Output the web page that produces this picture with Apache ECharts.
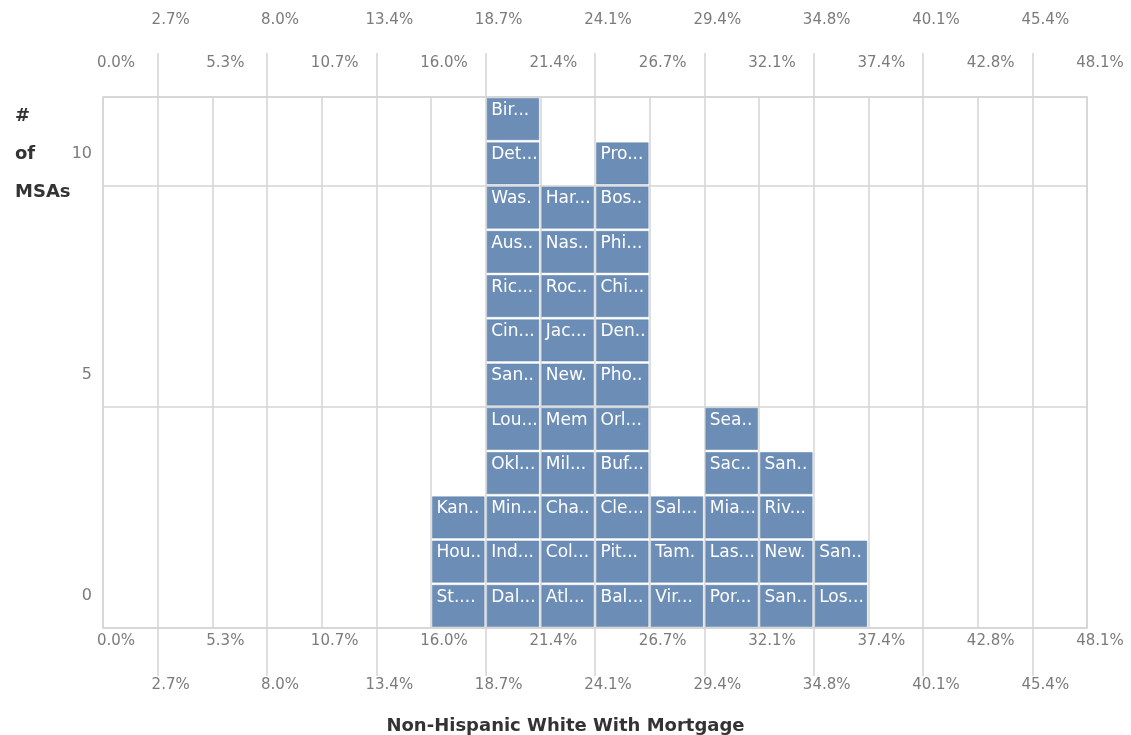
<!DOCTYPE html>
<html>
<head>
<meta charset="utf-8">
<script src="https://cdn.jsdelivr.net/npm/echarts@6/dist/echarts.min.js"></script>
<style>
html,body{margin:0;padding:0;background:#fff;}
#chart{width:1131px;height:735px;}
</style>
</head>
<body>
<div id="chart"></div>
<script>
// Bin edge tick labels (18 bins from 0.0% to 48.1%)
const tickLabels = ['0.0%','2.7%','5.3%','8.0%','10.7%','13.4%','16.0%','18.7%','21.4%','24.1%','26.7%','29.4%','32.1%','34.8%','37.4%','40.1%','42.8%','45.4%','48.1%'];
// y-axis labels (count of MSAs)
const yTickValues = [0, 5, 10];

// MSAs stacked in each bin, bottom to top (labels as displayed)
const bin_16_0 = ['St....','Hou..','Kan..'];
const bin_18_7 = ['Dal...','Ind...','Min...','Okl...','Lou...','San..','Cin...','Ric...','Aus..','Was.','Det...','Bir...'];
const bin_21_4 = ['Atl...','Col...','Cha..','Mil...','Mem','New.','Jac...','Roc..','Nas..','Har...'];
const bin_24_1 = ['Bal...','Pit...','Cle...','Buf...','Orl...','Pho..','Den..','Chi...','Phi...','Bos..','Pro...'];
const bin_26_7 = ['Vir...','Tam.','Sal...'];
const bin_29_4 = ['Por...','Las...','Mia...','Sac..','Sea..'];
const bin_32_1 = ['San..','New.','Riv...','San..'];
const bin_34_8 = ['Los...','San..'];
// bin index (position of left edge among tickLabels) for each column
const binIndex = [6, 7, 8, 9, 10, 11, 12, 13];
const columns = [bin_16_0, bin_18_7, bin_21_4, bin_24_1, bin_26_7, bin_29_4, bin_32_1, bin_34_8];

const cells = [];
columns.forEach((col, ci) => {
  col.forEach((name, row) => { cells.push([binIndex[ci], row, name]); });
});

const nBins = tickLabels.length - 1;
const evens = [], odds = [];
for (let i = 0; i <= nBins; i++) { (i % 2 === 0 ? evens : odds).push(i); }

const GRID = '#d4d4d4';
const LABEL = { color: '#7b7b7b', fontSize: 15, fontFamily: 'DejaVu Sans', align: 'center', padding: [0, 0, 0, 26] };

function xAx(position, parity, margin, tickLen, split) {
  return {
    type: 'value', position: position, min: 0, max: nBins, interval: 1,
    axisLine: { show: false },
    axisTick: tickLen ? { show: true, customValues: odds, length: tickLen, lineStyle: { color: GRID, width: 1.5 } } : { show: false },
    splitLine: { show: !!split, lineStyle: { color: GRID, width: 1.5 } },
    axisLabel: Object.assign({}, LABEL, {
      margin: margin,
      formatter: function (v) { const i = Math.round(v); return (i % 2 === parity) ? tickLabels[i] : ''; }
    })
  };
}

const chart = echarts.init(document.getElementById('chart'), null, { renderer: 'canvas' });
chart.setOption({
  animation: false,
  backgroundColor: '#ffffff',
  title: [
    { text: '#\nof\nMSAs', left: 10, top: 92,
      textStyle: { fontFamily: 'DejaVu Sans', fontWeight: 'bold', fontSize: 18, color: '#333', lineHeight: 38 } },
    { text: 'Non-Hispanic White With Mortgage', left: 'center', top: 712,
      textStyle: { fontFamily: 'DejaVu Sans', fontWeight: 'bold', fontSize: 18, color: '#333' } }
  ],
  grid: { left: 103, right: 44, top: 97, bottom: 107, show: true, borderColor: GRID, borderWidth: 1.5, containLabel: false },
  xAxis: [
    xAx('bottom', 0, 6, 0, true),
    xAx('bottom', 1, 50, 48, false),
    xAx('top', 0, 26, 0, false),
    xAx('top', 1, 69, 44, false)
  ],
  yAxis: {
    type: 'value', min: 0, max: 12, interval: 5,
    axisLine: { show: false }, axisTick: { show: false },
    splitLine: { show: true, lineStyle: { color: GRID, width: 1.5 } },
    axisLabel: {
      color: '#7b7b7b', fontSize: 16, fontFamily: 'DejaVu Sans', margin: 11,
      verticalAlign: 'bottom', lineHeight: 64,
      formatter: function (v) { return yTickValues.indexOf(v) >= 0 ? String(v) : ''; }
    }
  },
  series: [{
    type: 'custom',
    xAxisIndex: 0,
    yAxisIndex: 0,
    data: cells,
    encode: { x: 0, y: 1 },
    renderItem: function (params, api) {
      const x = api.value(0), y = api.value(1);
      const p0 = api.coord([x, y + 1]);
      const p1 = api.coord([x + 1, y]);
      const inset = 1.5;
      const rx = p0[0] + inset, ry = p0[1] + inset;
      const rw = p1[0] - p0[0] - 2 * inset, rh = p1[1] - p0[1] - 2 * inset;
      return {
        type: 'group',
        children: [
          { type: 'rect', shape: { x: rx, y: ry, width: rw, height: rh },
            style: { fill: '#6b8db6', stroke: '#5d80a9', lineWidth: 0.5 } },
          { type: 'text',
            style: { text: api.value(2), x: rx + 4, y: ry + 12, fill: '#ffffff',
              font: '17px "DejaVu Sans"', verticalAlign: 'middle', align: 'left',
              width: rw - 4, overflow: 'truncate', ellipsis: '' } }
        ]
      };
    }
  }]
});
</script>
</body>
</html>
